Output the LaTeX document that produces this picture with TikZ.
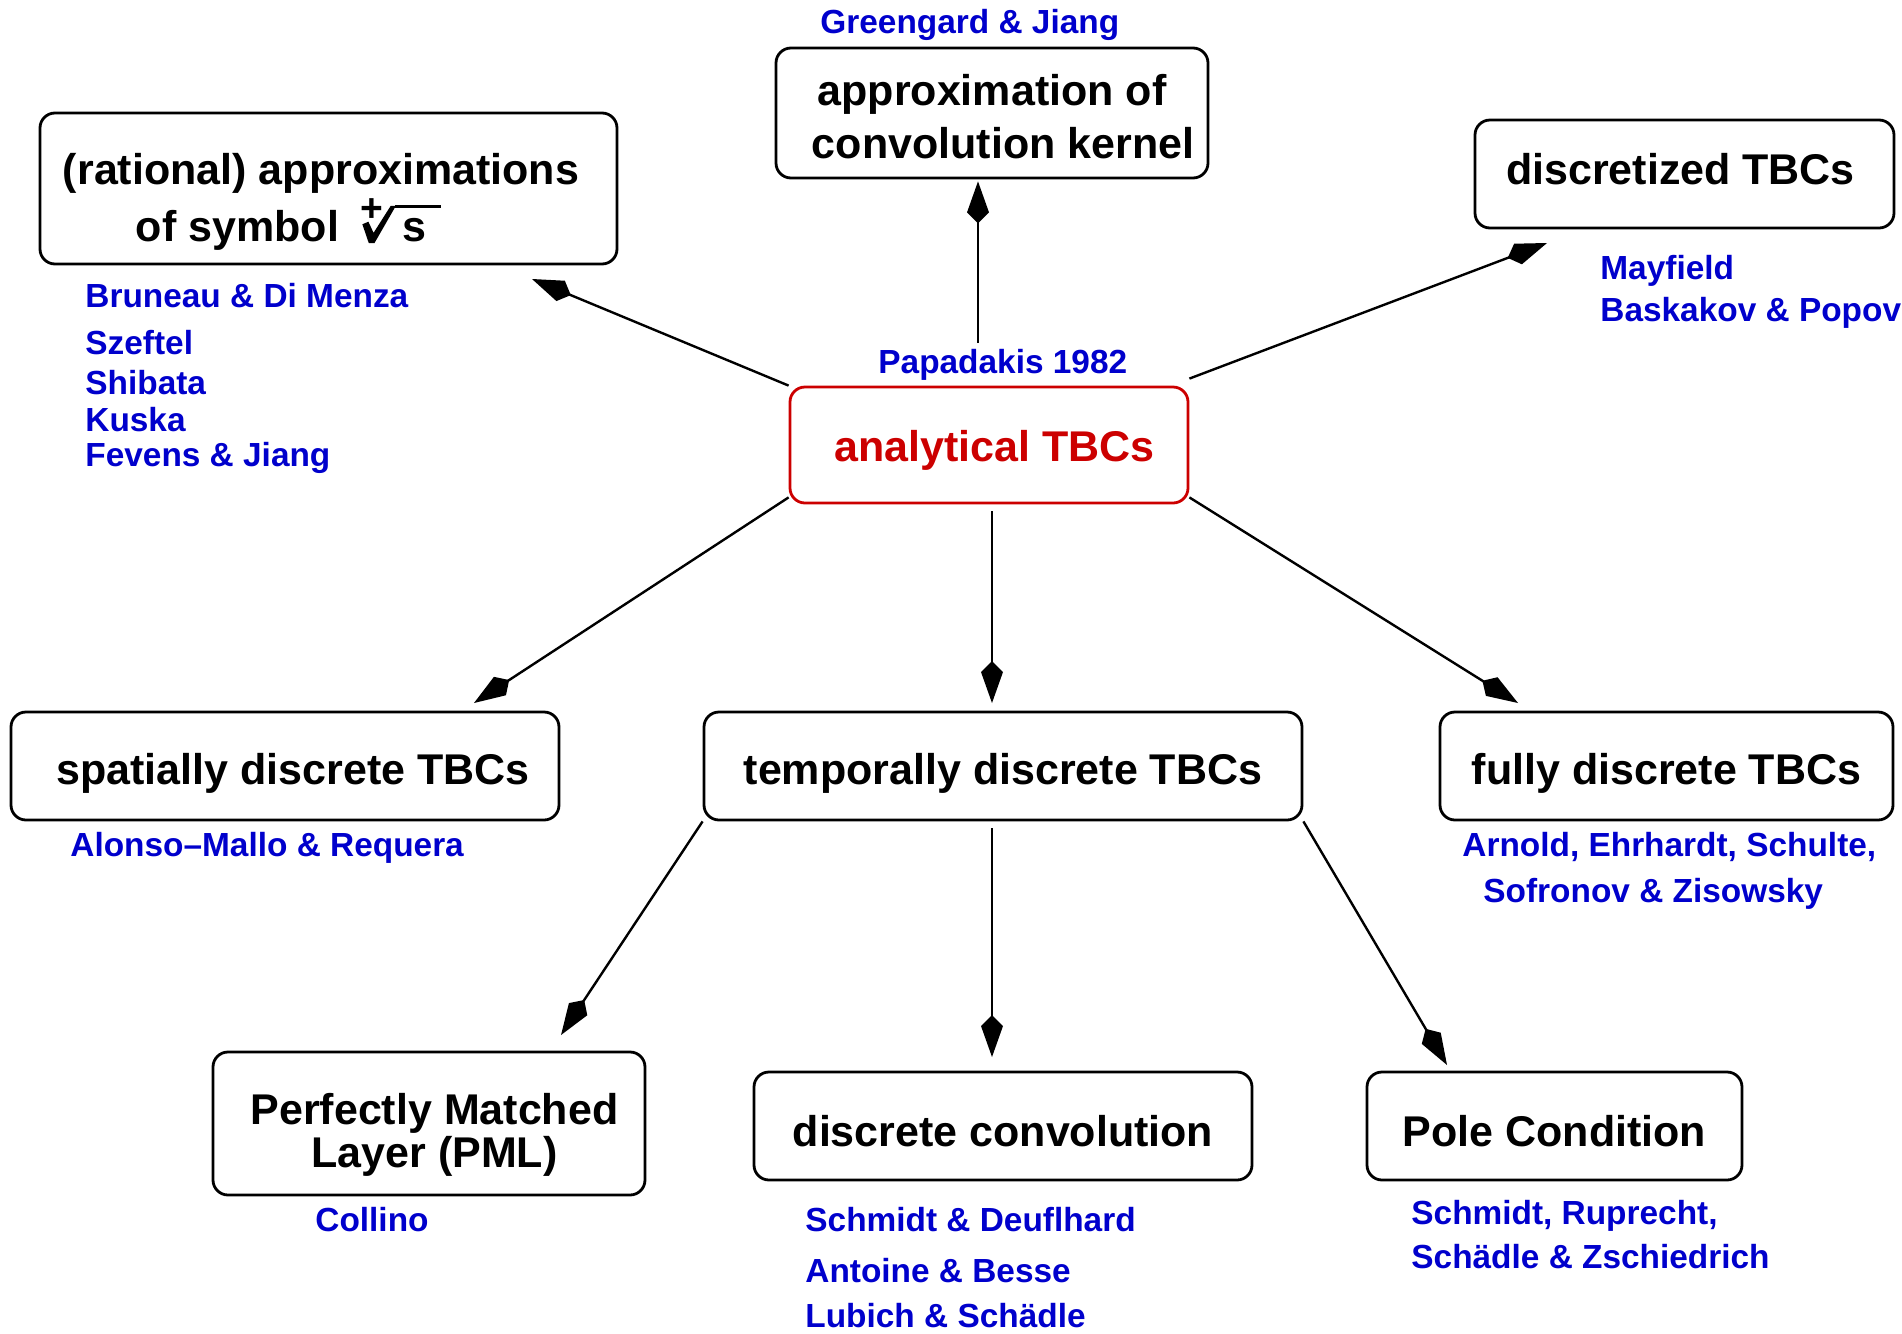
\documentclass[tikz,border=0pt]{standalone}
\usepackage{fontspec}
\usepackage{graphicx}
\setmainfont{Liberation Sans}
\usetikzlibrary{arrows.meta}
\definecolor{authblue}{RGB}{0,0,204}
\definecolor{anared}{RGB}{204,0,0}
\newcommand{\boxfont}{\fontsize{21.5}{26.5}\selectfont\bfseries}
\newcommand{\aufont}{\fontsize{16.7}{20}\selectfont\bfseries}
\newcommand{\plusroot}{\hspace{0.22em}\tikz[baseline=0pt, x=1em, y=1em, sharp corners, line width=0pt,
  symtxt/.style={inner sep=0pt, draw=none, minimum width=0pt, minimum height=0pt, text height=, text depth=}]{%
  \fill (0,0.40) -- (0.14,0.46) -- (0.26,0.20) -- (0.66,0.83) -- (0.78,0.83) -- (0.28,-0.04) -- (0.15,-0.04) -- cycle;
  \node[symtxt, font=\fontsize{19.5}{19.5}\selectfont\bfseries] (plus) at (0.22,0.73) {+};
  \fill (0.75,0.78) rectangle (1.82,0.855);
  \node[symtxt, anchor=base west] (ess) at (0.93,0) {s};}}
\begin{document}
\begin{tikzpicture}[x=0.5pt,y=-0.5pt,
  box/.style={draw, line width=1.4pt, rounded corners=7.5pt, inner sep=0pt, font=\boxfont},
  au/.style={anchor=base west, inner sep=0pt, text=authblue, font=\aufont},
  arr/.style={line width=1.2pt, -{Kite[length=21pt,width=11pt,inset=5.5pt]}}]
\useasboundingbox (0,0) rectangle (1902,1334);

% boxes
\node[box, minimum width=288.5pt, minimum height=75.5pt] (rat) at (328.5,188.5)
  {\raisebox{-7pt}[\height][\depth]{\begin{tabular}{@{}l@{}}(rational) approximations\\[-1pt]\hspace*{36.5pt}of symbol \plusroot\end{tabular}}\hspace*{7.5pt}};
\node[box, minimum width=216pt, minimum height=65pt] (kern) at (992,113)
  {\raisebox{-4pt}[\height][\depth]{\begin{tabular}{@{}c@{}}approximation of\\\hspace*{11pt}convolution kernel\end{tabular}}};
\node[box, minimum width=209.5pt, minimum height=54pt, text height=12pt, text depth=2pt] (disc) at (1684.5,174) {discretized TBCs\hspace*{4pt}};
\node[box, draw=anared, text=anared, minimum width=199pt, minimum height=58pt, text height=18.4pt, text depth=2pt] (ana) at (989,445) {\hspace*{5.5pt}analytical TBCs};
\node[box, minimum width=274pt, minimum height=54pt, text height=20pt, text depth=2pt] (spa) at (285,766) {\hspace*{8pt}spatially discrete TBCs};
\node[box, minimum width=299pt, minimum height=54pt, text height=20pt, text depth=2pt] (tem) at (1003,766) {temporally discrete TBCs};
\node[box, minimum width=226.5pt, minimum height=54pt, text height=20pt, text depth=2pt] (ful) at (1666.5,766) {fully discrete TBCs};
\node[box, minimum width=216pt, minimum height=71.5pt] (pml) at (429,1123.5)
  {\hspace*{5.5pt}\raisebox{-5.7pt}[\height][\depth]{\begin{tabular}{@{}c@{}}Perfectly Matched\\[-5pt]Layer (PML)\end{tabular}}};
\node[box, minimum width=249pt, minimum height=54pt, text height=22pt, text depth=2pt] (dco) at (1003,1126) {discrete convolution};
\node[box, minimum width=187.5pt, minimum height=54pt, text height=22pt, text depth=2pt] (pol) at (1554.5,1126) {Pole Condition};

% author labels
\node[au] (gj) at (820,33) {Greengard \& Jiang};
\node[au] (bdm) at (85,307) {Bruneau \& Di Menza};
\node[au] (sze) at (85,354) {Szeftel};
\node[au] (shi) at (85,394) {Shibata};
\node[au] (kus) at (85,431) {Kuska};
\node[au] (fj) at (85,466) {Fevens \& Jiang};
\node[au] (pap) at (878,373) {Papadakis 1982};
\node[au] (may) at (1600,279) {Mayfield};
\node[au] (bp) at (1600,321) {Baskakov \& Popov};
\node[au] (amr) at (70,856) {Alonso–Mallo \& Requera};
\node[au] (aes) at (1462,856) {Arnold, Ehrhardt, Schulte,};
\node[au] (sz) at (1483,902) {Sofronov \& Zisowsky};
\node[au] (col) at (315,1231) {Collino};
\node[au] (sd) at (805,1231) {Schmidt \& Deuflhard};
\node[au] (ab) at (805,1282) {Antoine \& Besse};
\node[au] (ls) at (805,1327) {Lubich \& Schädle};
\node[au] (sr) at (1411,1224) {Schmidt, Ruprecht,};
\node[au] (szs) at (1411,1268) {Schädle \& Zschiedrich};

% arrow ends
\coordinate (t1) at (532,279);
\coordinate (s2) at (978,343);
\coordinate (t3) at (1547,243);
\coordinate (t4) at (474,703);
\coordinate (t5) at (992,703);
\coordinate (t6) at (1518,703);
\coordinate (t7) at (561,1035);
\coordinate (t8) at (992,1057);
\coordinate (t9) at (1447,1065);

% connectors
\draw[arr] (ana.north west) -- (t1);
\draw[arr, shorten >=1pt] (s2) -- (s2 |- kern.south);
\draw[arr] ([yshift=3.5pt]ana.north east) -- (t3);
\draw[arr] ([yshift=3.5pt]ana.south west) -- (t4);
\draw[arr] ([xshift=1.5pt,yshift=-3.5pt]ana.south) -- (t5);
\draw[arr] ([yshift=3.5pt]ana.south east) -- (t6);
\draw[arr] (tem.south west) -- (t7);
\draw[arr] ([xshift=-5.5pt,yshift=-3.5pt]tem.south) -- (t8);
\draw[arr] (tem.south east) -- (t9);
\end{tikzpicture}
\end{document}
